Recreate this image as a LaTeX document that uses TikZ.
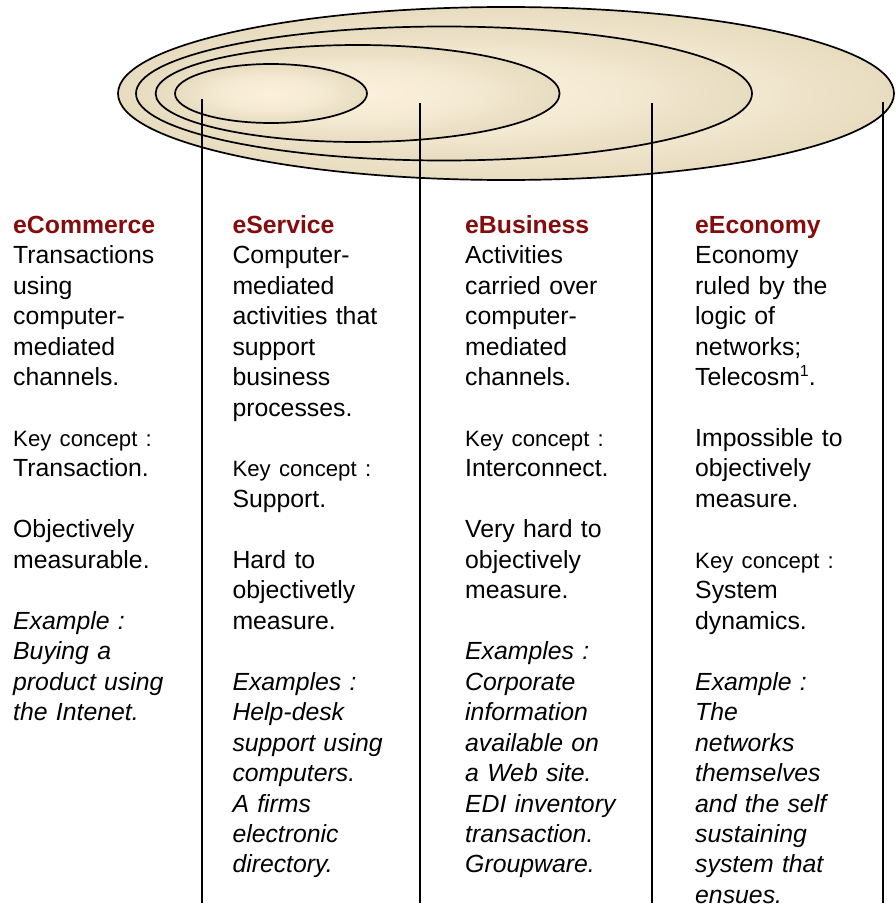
\documentclass[tikz,border=0pt]{standalone}
\usepackage{fontspec}
\setmainfont{Liberation Sans}
\definecolor{discin}{RGB}{253,240,220}
\definecolor{discmid}{RGB}{244,234,211}
\definecolor{disctan}{RGB}{226,213,183}
\definecolor{discout}{RGB}{205,189,151}
\definecolor{titlered}{RGB}{133,12,12}
\pgfdeclareradialshading{disc}{\pgfpoint{0bp}{0bp}}{%
  color(0bp)=(discin); color(14bp)=(discmid); color(30bp)=(disctan); color(50bp)=(discout); color(100bp)=(discout)}
\begin{document}
\begin{tikzpicture}[x=1pt,y=-1pt,
  ring/.style={draw=black,line width=1.7pt,shading=disc},
  pole/.style={draw=black,line width=1.6pt},
  column/.style={anchor=base west,inner sep=0pt,text width=200pt,align=left,
    font=\fontsize{24.8}{30.46}\selectfont}]
\newcommand{\ttl}[1]{\textbf{\textcolor{titlered}{#1}}}
\newcommand{\smalltxt}[1]{{\fontsize{22.2}{30.46}\selectfont #1}}
\newcommand{\blank}{\mbox{}\\}
\newcommand{\fnmark}[1]{\raisebox{9pt}{\fontsize{16}{16}\selectfont #1}}
\useasboundingbox (0,0) rectangle (896,907);

% nested spheres of activity
\path[ring] (506,93.5) ellipse [x radius=388, y radius=86.5];
\path[ring] (444,93.5) ellipse [x radius=308, y radius=67];
\path[ring] (357.6,93.5) ellipse [x radius=202, y radius=48.5];
\path[ring] (271,93.5) ellipse [x radius=96, y radius=29.5];

% pole ends
\coordinate (p1top) at (202,99);
\coordinate (p1bot) at (202,903);
\coordinate (p2top) at (420,103);
\coordinate (p2bot) at (420,903);
\coordinate (p3top) at (652,103);
\coordinate (p3bot) at (652,903);
\coordinate (p4top) at (883,102);
\coordinate (p4bot) at (883,903);
\draw[pole] (p1top) -- (p1bot);
\draw[pole] (p2top) -- (p2bot);
\draw[pole] (p3top) -- (p3bot);
\draw[pole] (p4top) -- (p4bot);

\node[column] (ecommerce) at (13,233.3) {%
\ttl{eCommerce}\\
Transactions\\
using\\
computer-\\
mediated\\
channels.\\
\blank
\smalltxt{Key concept :}\\
Transaction.\\
\blank
Objectively\\
measurable.\\
\blank
\textit{Example :}\\
\textit{Buying a}\\
\textit{product using}\\
\textit{the Intenet.}};

\node[column] (eservice) at (232.3,233.3) {%
\ttl{eService}\\
Computer-\\
mediated\\
activities that\\
support\\
business\\
processes.\\
\blank
\smalltxt{Key concept :}\\
Support.\\
\blank
Hard to\\
objectivetly\\
measure.\\
\blank
\textit{Examples :}\\
\textit{Help-desk}\\
\textit{support using}\\
\textit{computers.}\\
\textit{A firms}\\
\textit{electronic}\\
\textit{directory.}};

\node[column] (ebusiness) at (465,233.3) {%
\ttl{eBusiness}\\
Activities\\
carried over\\
computer-\\
mediated\\
channels.\\
\blank
\smalltxt{Key concept :}\\
Interconnect.\\
\blank
Very hard to\\
objectively\\
measure.\\
\blank
\textit{Examples :}\\
\textit{Corporate}\\
\textit{information}\\
\textit{available on}\\
\textit{a Web site.}\\
\textit{EDI inventory}\\
\textit{transaction.}\\
\textit{Groupware.}};

\node[column] (eeconomy) at (695,233.3) {%
\ttl{eEconomy}\\
Economy\\
ruled by the\\
logic of\\
networks;\\
Telecosm\fnmark{1}.\\
\blank
Impossible to\\
objectively\\
measure.\\
\blank
\smalltxt{Key concept :}\\
System\\
dynamics.\\
\blank
\textit{Example :}\\
\textit{The}\\
\textit{networks}\\
\textit{themselves}\\
\textit{and the self}\\
\textit{sustaining}\\
\textit{system that}\\
\textit{ensues.}};
\end{tikzpicture}
\end{document}
